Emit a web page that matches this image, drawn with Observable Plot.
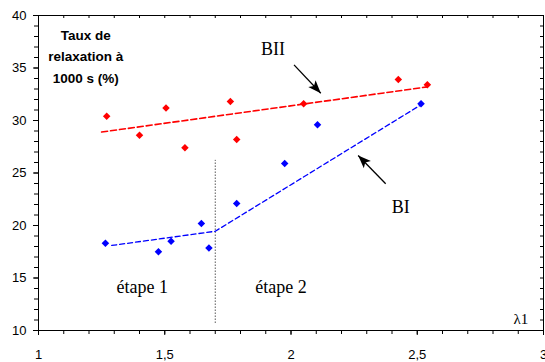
<!DOCTYPE html>
<html>
<head>
<meta charset="utf-8">
<script src="https://cdn.jsdelivr.net/npm/d3@7"></script>
<script src="https://cdn.jsdelivr.net/npm/@observablehq/plot@0.6"></script>
<style>
  html, body { margin: 0; padding: 0; background: #fff; }
  #chart { width: 545px; height: 362px; overflow: hidden; }
</style>
</head>
<body>
<div id="chart"></div>
<script>
// ---- Data ----
// BII (red) measured points
const biiX = [1.27, 1.40, 1.505, 1.58, 1.76, 1.785, 2.05, 2.425, 2.54];
const biiY = [30.4, 28.6, 31.2, 27.4, 31.8, 28.2, 31.6, 33.9, 33.4];
// BI (blue) measured points
const biX = [1.265, 1.475, 1.525, 1.645, 1.675, 1.785, 1.975, 2.105, 2.515];
const biY = [18.3, 17.5, 18.5, 20.2, 17.85, 22.1, 25.9, 29.6, 31.6];
// fitted (dashed) lines
const biiFitX = [1.25, 2.54];
const biiFitY = [28.9, 33.2];
const biFitX = [1.29, 1.70, 2.515];
const biFitY = [18.1, 19.45, 31.5];
// stage boundary
const stageX = [1.7];
const stageY = [10.7, 26.2];
// axis ticks
const xTicks = [1, 1.5, 2, 2.5, 3];
const xTickLabels = ["1", "1,5", "2", "2,5", "3"];
const yTicks = [10, 15, 20, 25, 30, 35, 40];
const xMinor = d3.range(10, 31).map(d => d / 10);
const yMinor = d3.range(10, 41);
// annotations
const annLabels = ["BII", "BI", "étape 1", "étape 2"];
const annX = [1.929, 2.435, 1.411, 1.96];
const annY = [36.2, 21.15, 13.55, 13.55];
const arrowNames = ["BII", "BI"];
const arrowX1 = [2.012, 2.375];
const arrowY1 = [35.3, 23.97];
const arrowX2 = [2.118, 2.266];
const arrowY2 = [32.6, 26.67];
const yTitle = "Taux de\nrelaxation à\n1000 s (%)";
const xTitle = "λ1";

// ---- Build tables ----
const bii = biiX.map((x, i) => ({x, y: biiY[i]}));
const bi = biX.map((x, i) => ({x, y: biY[i]}));
const biiFit = biiFitX.map((x, i) => ({x, y: biiFitY[i]}));
const biFit = biFitX.map((x, i) => ({x, y: biFitY[i]}));
const ann = annLabels.map((t, i) => ({t, x: annX[i], y: annY[i]}));
const arrows = arrowNames.map((n, i) => ({n, x1: arrowX1[i], y1: arrowY1[i], x2: arrowX2[i], y2: arrowY2[i]}));
const xTickRows = xTicks.map((v, i) => ({v, label: xTickLabels[i]}));

const arrowHead = {
  draw(context) {
    context.moveTo(0, 0);
    context.lineTo(5, 13);
    context.lineTo(0, 10);
    context.lineTo(-5, 13);
    context.closePath();
  }
};

const serif = "'Liberation Serif', 'Times New Roman', serif";
const sans = "'Liberation Sans', Arial, sans-serif";

const chart = Plot.plot({
  width: 545,
  height: 362,
  marginLeft: 38,
  marginRight: 2,
  marginTop: 15,
  marginBottom: 32,
  style: {fontFamily: sans, fontSize: "13px", background: "white", color: "black", overflow: "visible"},
  x: {domain: [1, 3], label: null, axis: null},
  y: {domain: [10, 40], label: null, axis: null},
  marks: [
    // major ticks
    Plot.ruleX(xTicks, {x: d => d, y1: 10, y2: 10, insetBottom: -5, stroke: "black"}),
    Plot.ruleY(yTicks, {y: d => d, x1: 1, x2: 1, insetLeft: -5, stroke: "black"}),
    // minor ticks bottom (outward) / top (inward)
    Plot.ruleX(xMinor, {x: d => d, y1: 10, y2: 10, insetBottom: -4, stroke: "black"}),
    Plot.ruleX(xMinor, {x: d => d, y1: 40, y2: 40, insetBottom: -3, stroke: "black"}),
    // minor ticks left (outward) / right (inward)
    Plot.ruleY(yMinor, {y: d => d, x1: 1, x2: 1, insetLeft: -4, stroke: "black"}),
    Plot.ruleY(yMinor, {y: d => d, x1: 3, x2: 3, insetLeft: -3, stroke: "black"}),
    Plot.frame({stroke: "black", strokeWidth: 1}),
    // tick labels
    Plot.text(xTickRows, {x: "v", y: 10, text: "label", dy: 28, lineAnchor: "bottom", textAnchor: "middle", fontFamily: sans, fontSize: 13, fill: "black"}),
    Plot.text(yTicks, {x: 1, y: d => d, text: d => String(d), dx: -12, textAnchor: "end", lineAnchor: "middle", fontFamily: sans, fontSize: 13, fill: "black"}),
    // stage boundary
    Plot.ruleX(stageX, {x: d => d, y1: stageY[0], y2: stageY[1], stroke: "black", strokeWidth: 1, strokeDasharray: "1,2"}),
    // fitted lines
    Plot.line(biiFit, {x: "x", y: "y", stroke: "#ff0000", strokeWidth: 1.6, strokeDasharray: "6,3"}),
    Plot.line(biFit, {x: "x", y: "y", stroke: "#0000ff", strokeWidth: 1.3, strokeDasharray: "5,3"}),
    // points
    Plot.dot(bii, {x: "x", y: "y", symbol: "square", rotate: 45, r: 3, fill: "#ff0000", stroke: "none"}),
    Plot.dot(bi, {x: "x", y: "y", symbol: "square", rotate: 45, r: 3, fill: "#0000ff", stroke: "none"}),
    // arrows
    Plot.link(arrows, {x1: "x1", y1: "y1", x2: "x2", y2: "y2", stroke: "black", strokeWidth: 1.3}),
    Plot.dot(arrows.filter(d => d.n === "BII"), {x: "x2", y: "y2", symbol: arrowHead, rotate: 137, fill: "black", stroke: "none"}),
    Plot.dot(arrows.filter(d => d.n === "BI"), {x: "x2", y: "y2", symbol: arrowHead, rotate: 315, fill: "black", stroke: "none"}),
    // annotation texts
    Plot.text(ann, {x: "x", y: "y", text: "t", fontFamily: serif, fontSize: 18, textAnchor: "middle", lineAnchor: "bottom", fill: "black"}),
    Plot.text([xTitle], {x: 2.94, y: 10.6, text: d => d, fontFamily: serif, fontSize: 15, textAnchor: "end", lineAnchor: "bottom", fill: "black"}),
    Plot.text([yTitle], {x: 1.187, y: 36.3, text: d => d, fontFamily: sans, fontWeight: "bold", fontSize: 13.5, lineHeight: 1.6, textAnchor: "middle", lineAnchor: "middle", fill: "black"})
  ]
});
document.getElementById("chart").appendChild(chart);
</script>
</body>
</html>
